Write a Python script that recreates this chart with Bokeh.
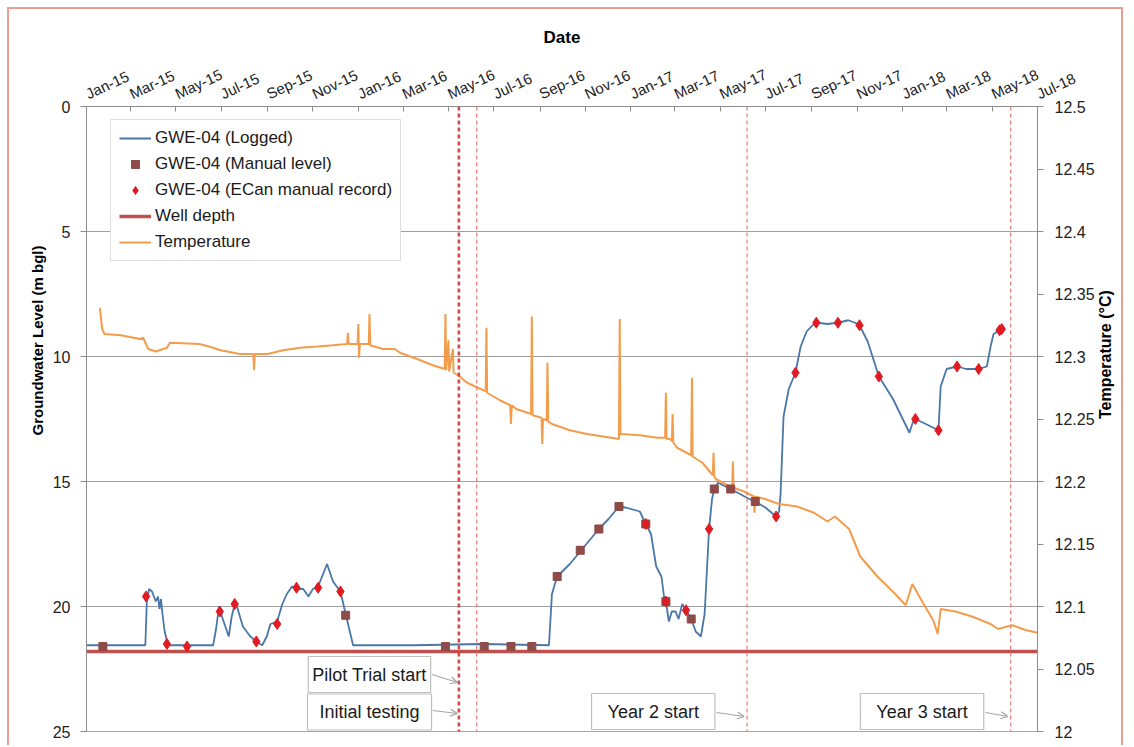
import math
import pandas as pd
from bokeh.plotting import figure
from bokeh.models import (Range1d, LinearAxis, FixedTicker, DatetimeTickFormatter,
                          NumeralTickFormatter, Legend, LegendItem, Span, Label, Title,
                          Arrow, OpenHead, ColumnDataSource)
from bokeh.embed import file_html
from bokeh.resources import INLINE

# ---------------- data ----------------
logged_dates = [
    "2015-01-01", "2015-03-21", "2015-03-23", "2015-03-26", "2015-03-30", "2015-04-04",
    "2015-04-07", "2015-04-09", "2015-04-11", "2015-04-13", "2015-04-16", "2015-04-20",
    "2015-04-24", "2015-06-20", "2015-06-24", "2015-06-28", "2015-07-03", "2015-07-11",
    "2015-07-15", "2015-07-20", "2015-07-24", "2015-07-30", "2015-08-09", "2015-08-17",
    "2015-08-25", "2015-08-31", "2015-09-05", "2015-09-14", "2015-09-21", "2015-09-27",
    "2015-10-04", "2015-10-10", "2015-10-19", "2015-10-26", "2015-11-01", "2015-11-08",
    "2015-11-20", "2015-11-28", "2015-12-08", "2015-12-15", "2015-12-25", "2016-03-17",
    "2016-06-15", "2016-09-13", "2016-09-17", "2016-09-24", "2016-10-11", "2016-10-25",
    "2016-11-19", "2016-12-02", "2016-12-16", "2016-12-26", "2017-01-13", "2017-01-21",
    "2017-01-28", "2017-02-04", "2017-02-11", "2017-02-15", "2017-02-17", "2017-02-21",
    "2017-02-25", "2017-03-02", "2017-03-06", "2017-03-11", "2017-03-16", "2017-03-23",
    "2017-03-29", "2017-04-05", "2017-04-10", "2017-04-16", "2017-04-20", "2017-04-23",
    "2017-04-28", "2017-05-15", "2017-06-09", "2017-06-17", "2017-07-01", "2017-07-15",
    "2017-07-19", "2017-07-21", "2017-07-25", "2017-08-01", "2017-08-10", "2017-08-17",
    "2017-08-25", "2017-09-02", "2017-09-09", "2017-09-22", "2017-10-06", "2017-10-20",
    "2017-10-29", "2017-11-04", "2017-11-15", "2017-11-30", "2017-12-19", "2018-01-10",
    "2018-01-15", "2018-01-18", "2018-02-01", "2018-02-18", "2018-02-21", "2018-03-01",
    "2018-03-15", "2018-03-27", "2018-04-13", "2018-04-24", "2018-04-29", "2018-05-03",
    "2018-05-11", "2018-05-15",
]
logged_level = [
    21.55, 21.55, 19.8, 19.3, 19.4, 19.8,
    19.6, 20.1, 19.7, 20.3, 21.0, 21.5,
    21.55, 21.55, 20.9, 20.0, 20.5, 21.2,
    20.4, 19.8, 20.2, 20.8, 21.2, 21.4,
    21.55, 21.2, 20.7, 20.6, 19.9, 19.5,
    19.2, 19.3, 19.3, 19.6, 19.3, 19.2,
    18.3, 19.0, 19.4, 20.3, 21.55, 21.55,
    21.5, 21.55, 19.5, 18.8, 18.3, 17.8,
    16.9, 16.5, 16.0, 16.05, 16.2, 16.7,
    17.1, 18.4, 18.8, 19.7, 19.8, 20.6,
    20.2, 20.2, 20.5, 19.9, 20.15, 20.5,
    21.0, 21.2, 20.3, 16.9, 15.7, 15.3,
    15.05, 15.3, 15.7, 15.8, 16.05, 16.4,
    16.2, 15.5, 12.4, 11.3, 10.65, 9.6,
    9.0, 8.75, 8.65, 8.7, 8.65, 8.55,
    8.65, 8.75, 9.4, 10.8, 11.7, 13.05,
    12.6, 12.5, 12.7, 12.95, 11.2, 10.5,
    10.4, 10.5, 10.5, 10.4, 9.6, 9.1,
    8.95, 8.85,
]

manual_dates = [
    "2015-01-23", "2015-12-15", "2016-04-27", "2016-06-18", "2016-07-24", "2016-08-21",
    "2016-09-24", "2016-10-25", "2016-11-19", "2016-12-16", "2017-01-21", "2017-02-17",
    "2017-03-23", "2017-04-23", "2017-05-15", "2017-06-17",
]
manual_level = [
    21.6, 20.35, 21.6, 21.6, 21.6, 21.6,
    18.8, 17.75, 16.9, 16.0, 16.7, 19.8,
    20.5, 15.3, 15.3, 15.8,
]

ecan_dates = [
    "2015-03-22", "2015-04-19", "2015-05-16", "2015-06-29", "2015-07-19", "2015-08-17",
    "2015-09-14", "2015-10-10", "2015-11-08", "2015-12-08", "2017-01-21", "2017-02-17",
    "2017-03-16", "2017-04-16", "2017-07-15", "2017-08-10", "2017-09-07", "2017-10-06",
    "2017-11-04", "2017-11-30", "2018-01-18", "2018-02-18", "2018-03-15", "2018-04-13",
    "2018-05-11", "2018-05-14",
]
ecan_level = [
    19.6, 21.5, 21.6, 20.2, 19.9, 21.4,
    20.7, 19.25, 19.25, 19.4, 16.7, 19.8,
    20.15, 16.9, 16.4, 10.65, 8.65, 8.65,
    8.75, 10.8, 12.5, 12.95, 10.4, 10.5,
    8.95, 8.9,
]

temp_dates = [
    "2015-01-19", "2015-01-22", "2015-01-25", "2015-02-16", "2015-03-14", "2015-03-18",
    "2015-03-25", "2015-04-04", "2015-04-19", "2015-04-23", "2015-06-02", "2015-06-20",
    "2015-06-30", "2015-07-26", "2015-08-13", "2015-08-14", "2015-08-15", "2015-09-01",
    "2015-09-22", "2015-10-15", "2015-11-07", "2015-11-28", "2015-12-17", "2015-12-18",
    "2015-12-19", "2015-12-31", "2016-01-01", "2016-01-02", "2016-01-03", "2016-01-15",
    "2016-01-16", "2016-01-17", "2016-02-03", "2016-02-19", "2016-02-26", "2016-03-20",
    "2016-04-10", "2016-04-26", "2016-04-27", "2016-04-28", "2016-05-01", "2016-05-02",
    "2016-05-07", "2016-05-08", "2016-05-14", "2016-05-26", "2016-06-17", "2016-06-20",
    "2016-06-21", "2016-06-22", "2016-07-09", "2016-07-23", "2016-07-24", "2016-07-25",
    "2016-07-31", "2016-08-20", "2016-08-21", "2016-08-22", "2016-09-03", "2016-09-04",
    "2016-09-05", "2016-09-10", "2016-09-11", "2016-09-12", "2016-09-17", "2016-10-11",
    "2016-11-03", "2016-12-16", "2016-12-17", "2016-12-18", "2017-01-13", "2017-02-06",
    "2017-02-16", "2017-02-17", "2017-02-18", "2017-02-23", "2017-02-25", "2017-02-26",
    "2017-02-27", "2017-03-04", "2017-03-23", "2017-03-24", "2017-03-25", "2017-04-07",
    "2017-04-21", "2017-04-22", "2017-04-23", "2017-04-25", "2017-05-14", "2017-05-17",
    "2017-05-18", "2017-05-19", "2017-06-02", "2017-06-15", "2017-06-16", "2017-06-17",
    "2017-06-30", "2017-07-19", "2017-08-12", "2017-09-04", "2017-09-22", "2017-10-02",
    "2017-10-21", "2017-11-05", "2017-11-28", "2017-12-22", "2018-01-05", "2018-01-14",
    "2018-01-29", "2018-02-11", "2018-02-17", "2018-02-21", "2018-03-13", "2018-04-04",
    "2018-04-29", "2018-05-09", "2018-05-28", "2018-06-16", "2018-07-01",
]
temp_values = [
    12.339, 12.322, 12.318, 12.317, 12.314, 12.315,
    12.306, 12.304, 12.307, 12.311, 12.310, 12.307,
    12.305, 12.302, 12.302, 12.289, 12.302, 12.302,
    12.305, 12.307, 12.308, 12.309, 12.310, 12.319,
    12.310, 12.310, 12.326, 12.299, 12.310, 12.310,
    12.334, 12.309, 12.306, 12.306, 12.303, 12.298,
    12.293, 12.290, 12.334, 12.289, 12.313, 12.288,
    12.306, 12.287, 12.285, 12.279, 12.273, 12.272,
    12.323, 12.271, 12.265, 12.261, 12.246, 12.261,
    12.258, 12.254, 12.332, 12.253, 12.251, 12.230,
    12.250, 12.249, 12.295, 12.248, 12.246, 12.241,
    12.238, 12.234, 12.330, 12.238, 12.237, 12.235,
    12.235, 12.271, 12.234, 12.234, 12.232, 12.254,
    12.231, 12.227, 12.221, 12.283, 12.220, 12.215,
    12.205, 12.223, 12.204, 12.202, 12.196, 12.196,
    12.216, 12.195, 12.192, 12.188, 12.175, 12.188,
    12.186, 12.182, 12.180, 12.175, 12.168, 12.172,
    12.162, 12.140, 12.124, 12.110, 12.101, 12.118,
    12.102, 12.089, 12.078, 12.098, 12.096, 12.092,
    12.086, 12.082, 12.085, 12.081, 12.079,
]

well_depth = 21.8
event_dates = ["2016-05-15", "2016-06-08", "2017-06-06", "2018-05-26"]
annotation_texts = ["Pilot Trial start", "Initial testing", "Year 2 start", "Year 3 start"]
x_tick_dates = pd.date_range("2015-01-01", "2018-07-01", freq="2MS")
left_ticks = [0, 5, 10, 15, 20, 25]
right_ticks = [12.0, 12.05, 12.1, 12.15, 12.2, 12.25, 12.3, 12.35, 12.4, 12.45, 12.5]


def ms(d):
    return pd.Timestamp(d).value / 1e6


FONT = "Liberation Sans"
GREY = "#8C8C8C"

# ---------------- figure ----------------
p = figure(width=1116, height=738, x_axis_type="datetime", x_axis_location="above",
           x_range=Range1d(ms("2015-01-01"), ms("2018-07-01")), y_range=Range1d(25, 0),
           output_backend="svg", toolbar_location=None, title="Date",
           min_border_left=77, min_border_right=87, min_border_top=97, min_border_bottom=16)
p.styles = {"margin-left": "7px", "margin-top": "7px",
            "border-top": "2px solid #E9A08E", "border-left": "2px solid #E9A08E",
            "border-right": "2px solid #E9A08E"}
p.background_fill_color = "white"
p.border_fill_color = "white"
p.outline_line_color = "#A6A6A6"

p.title.align = "center"
p.title.text_font = FONT
p.title.text_font_size = "17px"
p.title.text_font_style = "bold"
p.title.text_color = "#000000"
p.title.standoff = 16

p.extra_y_ranges = {"temp": Range1d(12.0, 12.5)}

# x axis (top)
xa = p.xaxis[0]
xa.ticker = FixedTicker(ticks=[ms(d) for d in x_tick_dates])
xa.formatter = DatetimeTickFormatter(days="%b-%y", months="%b-%y", years="%b-%y")
xa.major_label_orientation = math.radians(25)
xa.major_label_standoff = 12
xa.major_label_text_font = FONT
xa.major_label_text_font_size = "15px"
xa.major_label_text_color = "#222222"
xa.axis_line_color = GREY
xa.major_tick_line_color = GREY
xa.major_tick_in = 5
xa.major_tick_out = 0
xa.minor_tick_line_color = None

# left axis
ya = p.yaxis[0]
ya.ticker = FixedTicker(ticks=left_ticks)
ya.major_label_text_font = FONT
ya.major_label_text_font_size = "16px"
ya.major_label_text_color = "#222222"
ya.major_label_standoff = 10
ya.axis_line_color = GREY
ya.major_tick_line_color = GREY
ya.major_tick_in = 0
ya.major_tick_out = 6
ya.minor_tick_line_color = None

# right axis
ra = LinearAxis(y_range_name="temp", ticker=FixedTicker(ticks=right_ticks),
                formatter=NumeralTickFormatter(format="0.[00]"))
ra.major_label_text_font = FONT
ra.major_label_text_font_size = "16px"
ra.major_label_text_color = "#222222"
ra.major_label_standoff = 11
ra.axis_line_color = GREY
ra.major_tick_line_color = GREY
ra.major_tick_in = 0
ra.major_tick_out = 6
ra.minor_tick_line_color = None
ra.axis_label = "Temperature (\u00b0C)"
ra.axis_label_text_font = FONT
ra.axis_label_text_font_size = "16px"
ra.axis_label_text_font_style = "bold"
ra.axis_label_text_color = "#000000"
ra.axis_label_standoff = 8
try:
    ra.axis_label_orientation = math.pi / 2
except Exception:
    pass
p.add_layout(ra, "right")

# left title
p.add_layout(Title(text="Groundwater Level (m bgl)", align="right", offset=139,
                   standoff=8, text_font=FONT, text_font_size="15px",
                   text_font_style="bold", text_color="#000000"), "left")

p.xgrid.visible = False
p.ygrid.ticker = FixedTicker(ticks=left_ticks)
p.ygrid.grid_line_color = "#A0A0A0"
p.ygrid.grid_line_width = 1

# ---------------- series ----------------
logged_src = ColumnDataSource(dict(x=pd.to_datetime(logged_dates), y=logged_level))
manual_src = ColumnDataSource(dict(x=pd.to_datetime(manual_dates), y=manual_level))
ecan_src = ColumnDataSource(dict(x=pd.to_datetime(ecan_dates), y=ecan_level))
temp_src = ColumnDataSource(dict(x=pd.to_datetime(temp_dates), y=temp_values))
well_src = ColumnDataSource(dict(x=pd.to_datetime(["2015-01-01", "2018-07-01"]),
                                 y=[well_depth, well_depth]))

r_well = p.line("x", "y", source=well_src, line_color="#C0504D", line_width=3.5)
r_logged = p.line("x", "y", source=logged_src, line_color="#4A77A8", line_width=1.8)
r_temp = p.line("x", "y", source=temp_src, line_color="#F39C4B", line_width=2.0,
                y_range_name="temp")
r_manual = p.scatter("x", "y", source=manual_src, marker="square", size=8,
                     fill_color="#8E4B47", line_color="#8E4B47")
r_ecan = p.scatter("x", "y", source=ecan_src, marker="diamond", size=11,
                   fill_color="#E01B22", line_color="#E01B22")

# event lines
event_colors = ["#D9474A", "#E8837E", "#E8837E", "#E8837E"]
event_widths = [2.6, 1.3, 1.3, 1.3]
for d, c, w in zip(event_dates, event_colors, event_widths):
    p.add_layout(Span(location=ms(d), dimension="height", line_color=c,
                      line_width=w, line_dash="4 3"))

# annotation boxes and arrows
box_x = ["2016-01-16", "2016-01-16", "2017-01-31", "2018-01-27"]
box_y = [22.72, 24.22, 24.2, 24.2]
box_pad = [(4, 8), (12, 8), (16, 8), (16, 8)]
for t, bx, by, pad in zip(annotation_texts, box_x, box_y, box_pad):
    p.add_layout(Label(x=ms(bx), y=by, text=t, text_align="center", text_baseline="middle",
                       text_font=FONT, text_font_size="18px", text_color="#1A1A1A",
                       background_fill_color="white", border_line_color="#BFBFBF",
                       border_line_width=1.2, padding=pad))

arrow_start_x = ["2016-04-09", "2016-04-10", "2017-04-26", "2018-04-22"]
arrow_start_y = [22.72, 24.16, 24.24, 24.24]
arrow_end_x = ["2016-05-13", "2016-05-13", "2017-06-02", "2018-05-22"]
arrow_end_y = [23.04, 24.28, 24.4, 24.4]
for sx, sy, ex, ey in zip(arrow_start_x, arrow_start_y, arrow_end_x, arrow_end_y):
    p.add_layout(Arrow(x_start=ms(sx), y_start=sy, x_end=ms(ex), y_end=ey,
                       line_color="#A6A6A6", line_width=1.2,
                       end=OpenHead(size=7, line_color="#A6A6A6", line_width=1.2)))

# legend
legend = Legend(items=[
    LegendItem(label="GWE-04 (Logged)", renderers=[r_logged]),
    LegendItem(label="GWE-04 (Manual level)", renderers=[r_manual]),
    LegendItem(label="GWE-04 (ECan manual record)", renderers=[r_ecan]),
    LegendItem(label="Well depth", renderers=[r_well]),
    LegendItem(label="Temperature", renderers=[r_temp]),
], location=(24, 470))
legend.label_text_font = FONT
legend.label_text_font_size = "17px"
legend.label_text_color = "#1A1A1A"
legend.border_line_color = "#BFBFBF"
legend.border_line_width = 1
legend.background_fill_color = "white"
legend.background_fill_alpha = 1
legend.glyph_width = 32
legend.glyph_height = 20
legend.label_height = 20
legend.label_standoff = 4
legend.spacing = 6
legend.padding = 8
legend.margin = 0
p.add_layout(legend, "center")

open("out.html", "w").write(file_html(p, INLINE))
